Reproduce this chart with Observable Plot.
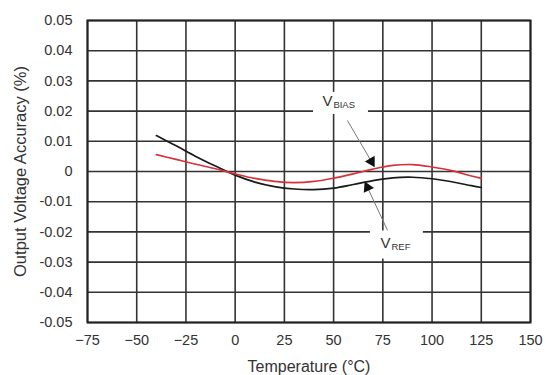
<!DOCTYPE html>
<html>
<head>
<meta charset="utf-8">
<script src="https://cdn.jsdelivr.net/npm/d3@7"></script>
<script src="https://cdn.jsdelivr.net/npm/@observablehq/plot@0.6"></script>
<style>
  html, body { margin: 0; padding: 0; background: #fff; }
  svg { font-family: "Liberation Sans", Arial, sans-serif; }
</style>
</head>
<body>
<div id="chart"></div>
<script>
// ---- data ----
const temps = [-40, -30, -20, -10, 0, 10, 20, 30, 40, 50, 60, 70, 80, 90, 100, 110, 120, 125];
const vref  = [0.0119, 0.0085, 0.0050, 0.0018, -0.0012, -0.0035, -0.0050, -0.0058, -0.0060, -0.0055, -0.0043, -0.0030, -0.0021, -0.0019, -0.0024, -0.0034, -0.0047, -0.0053];
const vbias = [0.0056, 0.0040, 0.0024, 0.0009, -0.0008, -0.0023, -0.0033, -0.0037, -0.0033, -0.0022, -0.0008, 0.0008, 0.0020, 0.0023, 0.0015, 0.0003, -0.0015, -0.0023];
const xTicks = [-75, -50, -25, 0, 25, 50, 75, 100, 125, 150];
const yTicks = [-0.05, -0.04, -0.03, -0.02, -0.01, 0, 0.01, 0.02, 0.03, 0.04, 0.05];
const xLabel = "Temperature (°C)";
const yLabel = "Output Voltage Accuracy (%)";
// annotations: label, subscript, label position, arrow start, arrow head, blank box behind label
const labels = [
  {main: "V", sub: "BIAS", x: 44.3, y: 0.0232, x1: 57.0, y1: 0.0169, x2: 69.2, y2: 0.0033, bx1: 39.8, bx2: 67.7, by1: 0.0189, by2: 0.0262},
  {main: "V", sub: "REF",  x: 73.8, y: -0.0238, x1: 77.4, y1: -0.0195, x2: 67.2, y2: -0.0053, bx1: 68.7, bx2: 95.6, by1: -0.0290, by2: -0.0197}
];

const rows = temps.map((t, i) => ({t, vref: vref[i], vbias: vbias[i]}));

const base = {
  width: 546, height: 375,
  marginLeft: 87, marginRight: 16, marginTop: 20, marginBottom: 53,
  x: {domain: [-75, 150]},
  y: {domain: [-0.05, 0.05]}
};

// first pass to obtain scales for arrowhead rotation
const p0 = Plot.plot({...base, marks: [Plot.frame()]});
const sx = p0.scale("x"), sy = p0.scale("y");
const heads = labels.map(d => {
  const dx = sx.apply(d.x2) - sx.apply(d.x1);
  const dy = sy.apply(d.y2) - sy.apply(d.y1);
  return {...d, rot: Math.atan2(dx, -dy) * 180 / Math.PI};
});

const fmtX = d => (d < 0 ? "\u2212" + Math.abs(d) : String(d));
const fmtY = d => (Math.abs(d) < 1e-9 ? "0" : d.toFixed(2));

const chart = Plot.plot({
  ...base,
  style: {fontFamily: "'Liberation Sans', Arial, sans-serif", fontSize: "14px", color: "#333"},
  marks: [
    Plot.gridX(xTicks, {stroke: "#333", strokeOpacity: 1, strokeWidth: 1.6}),
    Plot.gridY(yTicks, {stroke: "#333", strokeOpacity: 1, strokeWidth: 1.6}),
    Plot.rect(labels, {x1: "bx1", x2: "bx2", y1: "by1", y2: "by2", fill: "white"}),
    Plot.frame({stroke: "#222", strokeWidth: 2}),
    Plot.axisX(xTicks, {tickSize: 0, tickPadding: 12, tickFormat: fmtX, label: null, fontSize: 14.5, fill: "#333"}),
    Plot.axisY(yTicks, {tickSize: 0, tickPadding: 15, tickFormat: fmtY, label: null, fontSize: 14.5, fill: "#333"}),
    Plot.line(rows, {x: "t", y: "vref", stroke: "#1a1a1a", strokeWidth: 1.7, curve: "catmull-rom"}),
    Plot.line(rows, {x: "t", y: "vbias", stroke: "#d8313a", strokeWidth: 1.7, curve: "catmull-rom"}),
    Plot.link(labels, {x1: "x1", y1: "y1", x2: "x2", y2: "y2", stroke: "#777", strokeWidth: 1}),
    Plot.dot(heads, {x: "x2", y: "y2", symbol: "triangle", r: 4.2, fill: "#111", stroke: "none", rotate: "rot"}),
    Plot.text(labels, {x: "x", y: "y", text: "main", textAnchor: "start", lineAnchor: "middle", fontSize: 15, fill: "#333"}),
    Plot.text(labels, {x: "x", y: "y", text: "sub", textAnchor: "start", lineAnchor: "middle", fontSize: 9.5, dx: 11, dy: 4, fill: "#333"}),
    Plot.text([yLabel], {text: d => d, frameAnchor: "left", dx: -67, rotate: -90, textAnchor: "middle", lineAnchor: "middle", fontSize: 16.5, fill: "#333"}),
    Plot.text([xLabel], {text: d => d, frameAnchor: "bottom", dy: 44, textAnchor: "middle", lineAnchor: "middle", fontSize: 16, fill: "#333"})
  ]
});
document.getElementById("chart").appendChild(chart);
</script>
</body>
</html>
